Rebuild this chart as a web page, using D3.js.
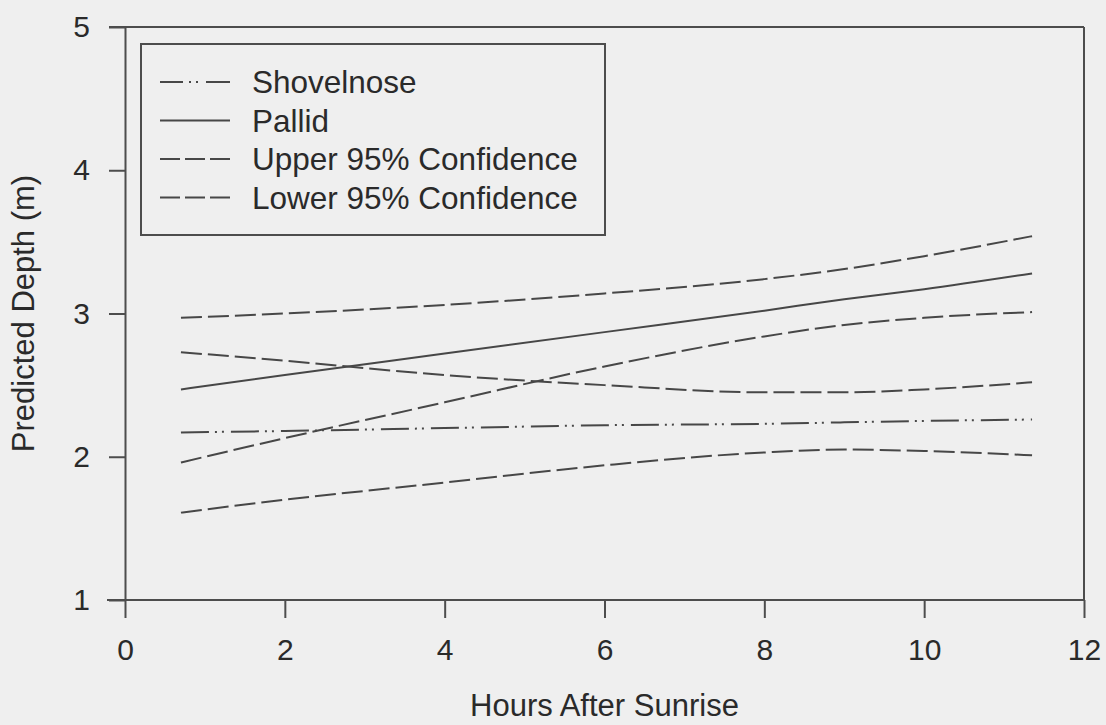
<!DOCTYPE html>
<html>
<head>
<meta charset="utf-8">
<script src="https://cdn.jsdelivr.net/npm/d3@7"></script>
<style>
  body { margin: 0; background: #efefef; }
  svg { display: block; font-family: "Liberation Sans", Arial, sans-serif; }
</style>
</head>
<body>
<svg id="chart"></svg>
<script>
const width = 1106;
const height = 725;

// hours after sunrise where curves were read
const hours = [0.7, 2, 4, 6, 8, 9, 10, 11.35];

const shovelnose = [2.17, 2.18, 2.20, 2.22, 2.23, 2.24, 2.25, 2.26];
const pallid = [2.47, 2.57, 2.72, 2.87, 3.02, 3.10, 3.17, 3.28];
const pallidUpper = [2.97, 3.00, 3.06, 3.14, 3.24, 3.31, 3.40, 3.54];
const pallidLower = [1.96, 2.13, 2.38, 2.63, 2.84, 2.92, 2.97, 3.01];
const shovelUpper = [2.73, 2.67, 2.57, 2.50, 2.45, 2.45, 2.47, 2.52];
const shovelLower = [1.61, 1.70, 1.82, 1.94, 2.03, 2.05, 2.04, 2.01];

const xTicks = [0, 2, 4, 6, 8, 10, 12];
const yTicks = [1, 2, 3, 4, 5];

const legendLabels = ["Shovelnose", "Pallid", "Upper 95% Confidence", "Lower 95% Confidence"];

const ink = "#474747";
const axisInk = "#4d4d4d";
const textInk = "#2a2a2a";

const margin = {top: 27, right: 22, bottom: 125, left: 125};

const svg = d3.select("#chart")
              .attr("width", width)
              .attr("height", height);

const x = d3.scaleLinear()
            .domain([0, 12])
            .range([margin.left, width - margin.right]);

const y = d3.scaleLinear()
            .domain([1, 5])
            .range([height - margin.bottom, margin.top]);

// frame: top and right
svg.append("line")
   .attr("x1", x(0) - 16).attr("x2", x(12))
   .attr("y1", y(5)).attr("y2", y(5))
   .attr("stroke", axisInk).attr("stroke-width", 2);

svg.append("line")
   .attr("x1", x(12)).attr("x2", x(12))
   .attr("y1", y(5)).attr("y2", y(1))
   .attr("stroke", axisInk).attr("stroke-width", 2);

const xAxis = svg.append("g")
                 .attr("transform", `translate(0,${y(1)})`)
                 .call(d3.axisBottom(x).tickValues(xTicks).tickSize(18).tickPadding(21).tickSizeOuter(0));

const yAxis = svg.append("g")
                 .attr("transform", `translate(${x(0)},0)`)
                 .call(d3.axisLeft(y).tickValues(yTicks).tickFormat(d3.format("d")).tickSize(16).tickPadding(19).tickSizeOuter(0));

[xAxis, yAxis].forEach(g => {
    g.select(".domain").attr("stroke", axisInk).attr("stroke-width", 2);
    g.selectAll(".tick line").attr("stroke", axisInk).attr("stroke-width", 2);
    g.selectAll(".tick text")
     .attr("fill", textInk)
     .style("font-size", "30px")
     .style("font-family", "'Liberation Sans', Arial, sans-serif");
});

// let the bottom axis reach past the y axis like the original
xAxis.select(".domain").attr("d", `M${x(0) - 18},0H${x(12)}`);

svg.append("text")
   .attr("x", (x(0) + x(12)) / 2)
   .attr("y", 716)
   .attr("text-anchor", "middle")
   .attr("fill", textInk)
   .style("font-size", "31px")
   .text("Hours After Sunrise");

svg.append("text")
   .attr("transform", `translate(34,${(y(1) + y(5)) / 2}) rotate(-90)`)
   .attr("text-anchor", "middle")
   .attr("fill", textInk)
   .style("font-size", "31px")
   .text("Predicted Depth (m)");

const line = d3.line()
               .x((d, i) => x(hours[i]))
               .y(d => y(d))
               .curve(d3.curveMonotoneX);

const dashed = "21,6";
const dashDotDot = "28,6,2,5,2,7";

const series = [
    {values: shovelUpper, dash: dashed},
    {values: shovelLower, dash: dashed},
    {values: pallidUpper, dash: dashed},
    {values: pallidLower, dash: dashed},
    {values: pallid, dash: null},
    {values: shovelnose, dash: dashDotDot}
];

series.forEach(s => {
    svg.append("path")
       .datum(s.values)
       .attr("d", line)
       .attr("fill", "none")
       .attr("stroke", ink)
       .attr("stroke-width", 2)
       .attr("stroke-dasharray", s.dash);
});

// Legend
const legend = svg.append("g");

legend.append("rect")
      .attr("x", 141)
      .attr("y", 44)
      .attr("width", 464)
      .attr("height", 191)
      .attr("fill", "none")
      .attr("stroke", axisInk)
      .attr("stroke-width", 2);

const legendDash = ["23,6,2,5,2,8,24", null, "20,5", "20,5"];

legendLabels.forEach((label, i) => {
    const cy = 82 + i * 38.5;
    legend.append("line")
          .attr("x1", 160).attr("x2", 230)
          .attr("y1", cy).attr("y2", cy)
          .attr("stroke", ink)
          .attr("stroke-width", 2)
          .attr("stroke-dasharray", legendDash[i]);

    legend.append("text")
          .attr("x", 252)
          .attr("y", cy + 11)
          .attr("fill", textInk)
          .style("font-size", "31.5px")
          .text(label);
});
</script>
</body>
</html>
